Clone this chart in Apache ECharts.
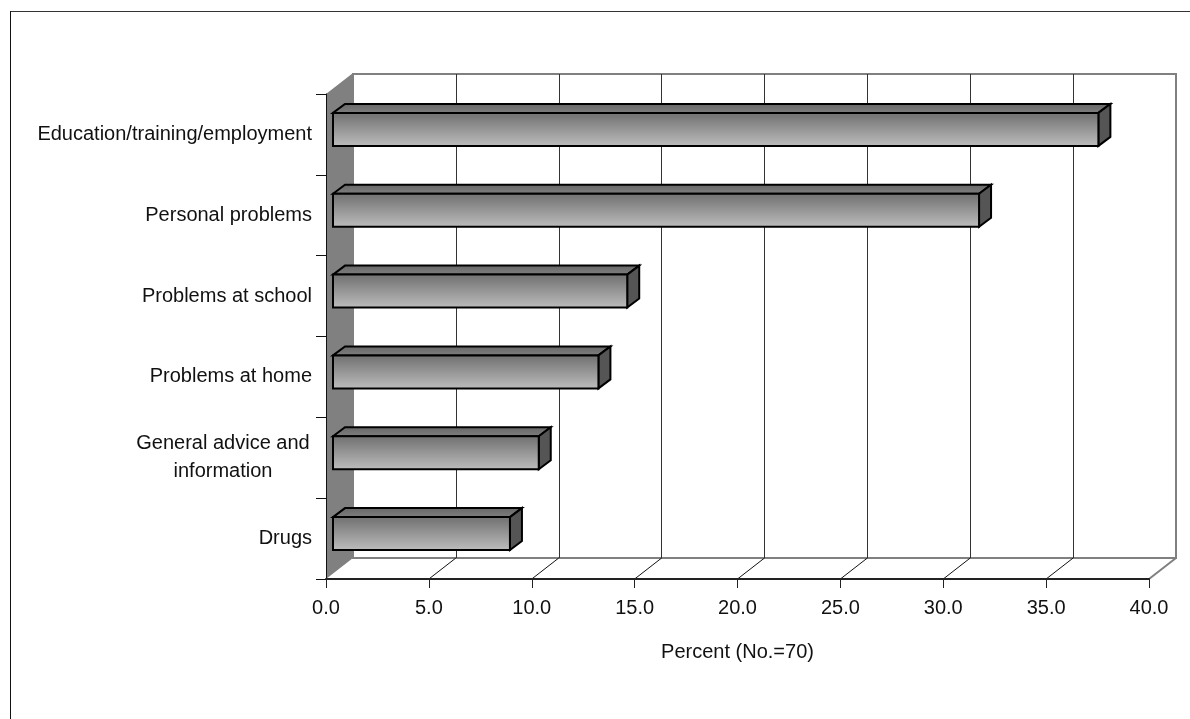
<!DOCTYPE html>
<html>
<head>
<meta charset="utf-8">
<style>html,body{margin:0;padding:0;background:#fff}#chart{width:1190px;height:719px}</style>
<script src="https://cdn.jsdelivr.net/npm/echarts@6/dist/echarts.min.js"></script>
</head>
<body>
<div id="chart"></div>
<script>
// Reasons for contacting the service, as a percentage of 70 contacts.
const categories = ['Education/training/employment', 'Personal problems', 'Problems at school', 'Problems at home', 'General advice and\ninformation', 'Drugs'];
const percents = [37.2, 31.4, 14.3, 12.9, 10.0, 8.6];
const xTicks = [0, 5, 10, 15, 20, 25, 30, 35, 40];
const axisTitle = 'Percent (No.=70)';

const font = '"Liberation Sans", Arial, sans-serif';
const wallDepth = [27, -21];   // how far the back wall sits behind the front axes
const barInset = [7, -5];      // where a bar's front face sits inside that depth
const barDepth = [12, -9];     // depth of the bar itself
const barRatio = 33 / 80.83;

const chart = echarts.init(document.getElementById('chart'), null, {renderer: 'canvas'});

function poly(points, style) {
  return {type: 'polygon', shape: {points}, style};
}

// Grey side wall and the floor lines running back from each tick.
function renderFloorAndWall(params, api) {
  const rect = params.coordSys;
  const left = rect.x, top = rect.y, bottom = rect.y + rect.height;
  const [dx, dy] = wallDepth;
  if (params.dataIndex === 0) {
    return poly([[left, top], [left + dx, top + dy], [left + dx, bottom + dy], [left, bottom]],
      {fill: '#808080', stroke: null});
  }
  const p = api.coord([api.value(0), 5]);
  const last = api.value(0) === 40;
  return {
    type: 'line',
    shape: {x1: p[0], y1: bottom, x2: p[0] + dx, y2: bottom + dy},
    style: {stroke: last ? '#808080' : '#111', lineWidth: last ? 2 : 1}
  };
}

function renderBar(params, api) {
  const end = api.coord([api.value(0), api.value(1)]);
  const start = api.coord([0, api.value(1)]);
  const h = api.size([0, 1])[1] * barRatio;
  const x0 = start[0] + barInset[0], x1 = end[0] + barInset[0];
  const y0 = end[1] + barInset[1] - h / 2, y1 = y0 + h;
  const [dx, dy] = barDepth;
  const line = {stroke: '#000', lineWidth: 2, lineJoin: 'miter'};
  return {
    type: 'group',
    children: [
      poly([[x0, y0], [x0 + dx, y0 + dy], [x1 + dx, y0 + dy], [x1, y0]], Object.assign({
        fill: new echarts.graphic.LinearGradient(0, 0, 0, 1, [
          {offset: 0, color: '#666666'}, {offset: 1, color: '#808080'}
        ])
      }, line)),
      poly([[x1, y0], [x1 + dx, y0 + dy], [x1 + dx, y1 + dy], [x1, y1]], Object.assign({fill: '#555555'}, line)),
      poly([[x0, y0], [x1, y0], [x1, y1], [x0, y1]], Object.assign({
        fill: new echarts.graphic.LinearGradient(0, 0, 0, 1, [
          {offset: 0, color: '#767676'}, {offset: 0.12, color: '#787878'}, {offset: 1, color: '#bebebe'}
        ])
      }, line))
    ]
  };
}

chart.setOption({
  animation: false,
  backgroundColor: '#fff',
  textStyle: {fontFamily: font},
  grid: [
    {left: 326, top: 94, width: 823, height: 485, containLabel: false},
    {left: 353, top: 74, width: 823, height: 484, show: true, backgroundColor: '#fff', borderColor: '#808080', borderWidth: 2, z: 0}
  ],
  xAxis: [
    {
      type: 'value', gridIndex: 0, min: 0, max: 40, interval: 5, z: 5,
      axisLine: {show: true, lineStyle: {color: '#222', width: 2}},
      axisTick: {show: true, length: 9, lineStyle: {color: '#222', width: 1}},
      axisLabel: {color: '#111', fontSize: 20, margin: 19, formatter: v => xTicks.includes(v) ? v.toFixed(1) : ''},
      splitLine: {show: false},
      name: axisTitle, nameLocation: 'middle', nameGap: 63,
      nameTextStyle: {color: '#111', fontSize: 20, fontFamily: font}
    },
    {
      type: 'value', gridIndex: 1, min: 0, max: 40, interval: 5, z: 1,
      axisLine: {show: false}, axisTick: {show: false}, axisLabel: {show: false},
      splitLine: {show: true, showMinLine: false, showMaxLine: false, lineStyle: {color: '#333', width: 1}}
    }
  ],
  yAxis: [
    {
      type: 'category', gridIndex: 0, data: categories, inverse: true, z: 5,
      axisLine: {show: true, lineStyle: {color: '#111', width: 1}},
      axisTick: {show: true, length: 10, alignWithLabel: false, lineStyle: {color: '#111', width: 1}},
      axisLabel: {
        color: '#111', fontSize: 20, margin: 14, align: 'right', interval: 0, lineHeight: 28,
        formatter: v => v.includes('\n') ? v.split('\n').map(s => '{c|' + s + '}').join('\n') : v,
        rich: {c: {width: 178, align: 'center', fontSize: 20, lineHeight: 28, color: '#111', fontFamily: font}}
      }
    },
    {
      type: 'category', gridIndex: 1, data: categories, inverse: true,
      axisLine: {show: false}, axisTick: {show: false}, axisLabel: {show: false}, splitLine: {show: false}
    }
  ],
  series: [
    {
      name: 'floor', type: 'custom', xAxisIndex: 0, yAxisIndex: 0, z: 2, silent: true,
      renderItem: renderFloorAndWall, data: xTicks.map(v => [v]), encode: {x: 0}
    },
    {
      name: 'Percent', type: 'custom', xAxisIndex: 0, yAxisIndex: 0, z: 3, silent: true,
      renderItem: renderBar, data: percents.map((v, i) => [v, i]), encode: {x: 0, y: 1}
    }
  ],
  graphic: [
    {type: 'line', z: 10, shape: {x1: 10, y1: 11.5, x2: 1190, y2: 11.5}, style: {stroke: '#333', lineWidth: 1}},
    {type: 'line', z: 10, shape: {x1: 10.5, y1: 11, x2: 10.5, y2: 719}, style: {stroke: '#111', lineWidth: 1}}
  ]
});
</script>
</body>
</html>
